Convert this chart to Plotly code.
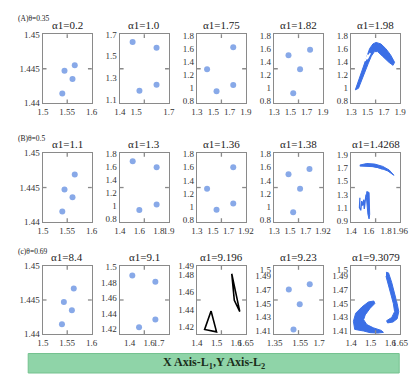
import plotly.graph_objects as go

# ---------------- data ----------------
titles = ["α1=0.2", "α1=1.0", "α1=1.75", "α1=1.82", "α1=1.98",
          "α1=1.1", "α1=1.3", "α1=1.36", "α1=1.38", "α1=1.4268",
          "α1=8.4", "α1=9.1", "α1=9.196", "α1=9.23", "α1=9.3079"]
row_labels = ["(A)θ=0.35", "(B)θ=0.5", "(c)θ=0.69"]
banner_text = "X Axis-L<sub>1</sub>,Y Axis-L<sub>2</sub>"

x_ranges = [[1.5, 1.6], [1.4, 1.7], [1.3, 1.9], [1.3, 1.9], [1.3, 1.9],
            [1.5, 1.6], [1.4, 1.9], [1.3, 1.92], [1.3, 1.92], [1.4, 1.96],
            [1.5, 1.6], [1.3, 1.8], [1.4, 1.65], [1.345, 1.73], [1.4, 1.65]]
y_ranges = [[1.44, 1.45], [1.066, 1.7], [0.76, 1.815], [0.76, 1.815], [0.76, 1.815],
            [1.44, 1.45], [0.76, 1.815], [0.77, 1.815], [0.77, 1.815], [0.885, 1.925],
            [1.44, 1.45], [1.414, 1.501], [1.412, 1.49], [1.405, 1.505], [1.405, 1.505]]
x_tick_vals = [[1.5, 1.55, 1.6], [1.4, 1.5, 1.7], [1.3, 1.5, 1.7, 1.9], [1.3, 1.5, 1.7, 1.9], [1.3, 1.5, 1.7, 1.9],
               [1.5, 1.55, 1.6], [1.4, 1.6, 1.8, 1.9], [1.3, 1.5, 1.7, 1.92], [1.3, 1.5, 1.7, 1.92], [1.4, 1.6, 1.8, 1.96],
               [1.5, 1.55, 1.6], [1.4, 1.6, 1.7], [1.4, 1.5, 1.6, 1.65], [1.35, 1.55, 1.7], [1.4, 1.5, 1.6, 1.65]]
y_tick_vals = [[1.44, 1.445, 1.45], [1.1, 1.3, 1.5, 1.7], [0.8, 1, 1.2, 1.4, 1.6, 1.8], [0.8, 1, 1.2, 1.4, 1.6, 1.8], [0.8, 1, 1.2, 1.4, 1.6, 1.8],
               [1.44, 1.445, 1.45], [0.8, 1, 1.2, 1.4, 1.6, 1.8], [0.8, 1, 1.2, 1.4, 1.6, 1.8], [0.8, 1, 1.2, 1.4, 1.6, 1.8], [0.9, 1.1, 1.3, 1.5, 1.7, 1.9],
               [1.44, 1.445, 1.45], [1.42, 1.44, 1.46, 1.48, 1.5], [1.42, 1.44, 1.46, 1.48, 1.49], [1.41, 1.43, 1.45, 1.47, 1.49, 1.5], [1.41, 1.43, 1.45, 1.47, 1.49, 1.5]]

# scatter-point panels (periodic orbits)
a1_x = [1.5654, 1.5444, 1.5608, 1.5399]; a1_y = [1.4455, 1.4447, 1.4435, 1.4414]
a2_x = [1.478, 1.625, 1.625, 1.520];     a2_y = [1.629, 1.578, 1.236, 1.180]
a3_x = [1.745, 1.424, 1.745, 1.540];     a3_y = [1.617, 1.281, 1.040, 0.944]
a4_x = [1.477, 1.742, 1.619, 1.535];     a4_y = [1.497, 1.579, 1.281, 0.911]
b1_x = [1.5654, 1.5444, 1.5608, 1.5399]; b1_y = [1.4469, 1.4447, 1.4436, 1.4415]
b2_x = [1.531, 1.776, 1.776, 1.599];     b2_y = [1.690, 1.600, 1.029, 0.943]
b3_x = [1.760, 1.428, 1.760, 1.548];     b3_y = [1.603, 1.274, 1.049, 0.955]
b4_x = [1.483, 1.749, 1.630, 1.542];     b4_y = [1.495, 1.575, 1.274, 0.917]
c1_x = [1.5634, 1.5431, 1.5595, 1.5392]; c1_y = [1.4467, 1.4447, 1.4435, 1.4414]
c2_x = [1.427, 1.663, 1.663, 1.496];     c2_y = [1.489, 1.481, 1.4325, 1.4225]
c4_x = [1.461, 1.626, 1.547, 1.498];     c4_y = [1.4703, 1.4783, 1.4488, 1.4116]

# alpha1=1.98 chaotic band
a5_band_x = [1.351, 1.41, 1.449, 1.488, 1.527, 1.567, 1.606, 1.665, 1.724, 1.782, 1.833,
             1.814, 1.763, 1.684, 1.625, 1.586, 1.547, 1.508, 1.449, 1.39, 1.351]
a5_band_y = [0.964, 1.176, 1.34, 1.481, 1.598, 1.669, 1.692, 1.669, 1.598, 1.504, 1.387,
             1.34, 1.387, 1.481, 1.551, 1.551, 1.481, 1.363, 1.176, 0.988, 0.964]
a5_gap_x = [1.469, 1.508, 1.496, 1.535]
a5_gap_y = [1.41, 1.504, 1.434, 1.528]

# alpha1=1.4268 attractor pieces
b5_arc_x = [1.499, 1.579, 1.671, 1.762, 1.836, 1.890, 1.890, 1.820, 1.735, 1.640, 1.550, 1.499]
b5_arc_y = [1.745, 1.769, 1.760, 1.725, 1.670, 1.605, 1.590, 1.655, 1.700, 1.722, 1.725, 1.730]
b5_hair_x = [1.600, 1.700, 1.760]
b5_hair_y = [1.740, 1.710, 1.680]
b5_strand_x = [1.579, 1.605, 1.612, 1.605, 1.592, 1.575, 1.579]
b5_strand_y = [1.344, 1.330, 1.000, 0.930, 1.000, 1.250, 1.344]
b5_zig_x = [1.500, 1.495, 1.510, 1.520, 1.530, 1.545, 1.550, 1.560, 1.570]
b5_zig_y = [1.250, 1.100, 1.060, 1.200, 1.130, 1.220, 1.080, 1.170, 1.300]

# alpha1=9.196 triangles
c3_tri1_x = [1.578, 1.591, 1.619, 1.578]
c3_tri1_y = [1.481, 1.4507, 1.4376, 1.481]
c3_tri2_x = [1.472, 1.439, 1.500, 1.472]
c3_tri2_y = [1.4384, 1.417, 1.4143, 1.4384]

# alpha1=9.3079 attractor
c5_blob_x = [1.4229, 1.4556, 1.4882, 1.516, 1.5209, 1.4964, 1.4719, 1.4637, 1.48, 1.5127, 1.5536,
             1.565, 1.5373, 1.4964, 1.4637, 1.4392, 1.418, 1.4114, 1.4229]
c5_blob_y = [1.4354, 1.4449, 1.4521, 1.4535, 1.4497, 1.4426, 1.433, 1.4259, 1.4187, 1.414, 1.4101,
             1.4072, 1.4062, 1.4068, 1.4092, 1.4101, 1.4116, 1.4235, 1.4354]
c5_strand_x = [1.5781, 1.5912, 1.6075, 1.6239, 1.6353, 1.6435, 1.6353, 1.6141, 1.5862, 1.5813,
               1.6075, 1.6222, 1.6157, 1.6026, 1.5912, 1.5781]
c5_strand_y = [1.4959, 1.495, 1.4807, 1.464, 1.4497, 1.4378, 1.4273, 1.4225, 1.4211, 1.4244,
               1.4292, 1.4378, 1.4497, 1.464, 1.4783, 1.4902]

# ---------------- figure ----------------
W, H = 413, 378
SERIF = "Liberation Serif, Times New Roman, DejaVu Serif, serif"
BOX = "#8a8a8a"
PT = "#88a9e8"
BLUE = "#3b6fe6"

col_left = [37, 117, 197, 277, 357]
box_w = 51
row_top = [30, 152, 268]
row_bot = [101, 223, 338]
label_y = [14, 137, 253]
TICK = 4  # px

fig = go.Figure()
layout = dict(width=W, height=H, margin=dict(l=0, r=0, t=0, b=0),
              paper_bgcolor="white", plot_bgcolor="white", showlegend=False,
              annotations=[], shapes=[])


def ax_ids(i):
    return ("x" if i == 0 else f"x{i+1}", "y" if i == 0 else f"y{i+1}")


def lab(v):
    return f"{v:g}"


for i in range(15):
    r, c = divmod(i, 5)
    xid, yid = ax_ids(i)
    xr, yr = x_ranges[i], y_ranges[i]
    px = (xr[1] - xr[0]) * 0.003
    py = (yr[1] - yr[0]) * 0.003
    common = dict(showline=True, mirror=True, linecolor=BOX, linewidth=1.3,
                  ticks="", showgrid=False, zeroline=False, tickangle=0,
                  tickfont=dict(family=SERIF, size=9, color="#333"))
    layout["xaxis" if i == 0 else f"xaxis{i+1}"] = dict(
        common, domain=[col_left[c] / W, (col_left[c] + box_w) / W],
        anchor=yid, range=[xr[0] - px, xr[1] + px], tickmode="array",
        tickvals=x_tick_vals[i], ticktext=[lab(v) for v in x_tick_vals[i]])
    layout["yaxis" if i == 0 else f"yaxis{i+1}"] = dict(
        common, domain=[1 - row_bot[r] / H, 1 - row_top[r] / H],
        anchor=xid, range=[yr[0] - py, yr[1] + py], tickmode="array",
        tickvals=y_tick_vals[i], ticktext=[lab(v) for v in y_tick_vals[i]])
    # inner mid ticks on all four sides
    xm = (xr[0] + xr[1]) / 2
    ym = (yr[0] + yr[1]) / 2
    fy = TICK / (row_bot[r] - row_top[r])
    fx = TICK / box_w
    for y0, y1 in [(0, fy), (1 - fy, 1)]:
        layout["shapes"].append(dict(type="line", xref=xid, yref=f"{yid} domain",
                                     x0=xm, x1=xm, y0=y0, y1=y1,
                                     line=dict(color=BOX, width=1.3)))
    for x0, x1 in [(0, fx), (1 - fx, 1)]:
        layout["shapes"].append(dict(type="line", xref=f"{xid} domain", yref=yid,
                                     x0=x0, x1=x1, y0=ym, y1=ym,
                                     line=dict(color=BOX, width=1.3)))
    layout["annotations"].append(dict(
        text=titles[i], x=(col_left[c] + box_w / 2) / W, y=1 - row_top[r] / H,
        xref="paper", yref="paper", xanchor="center", yanchor="bottom", yshift=1,
        showarrow=False, font=dict(family=SERIF, size=11, color="#222")))

for r in range(3):
    layout["annotations"].append(dict(
        text=row_labels[r], x=9 / W, y=1 - label_y[r] / H, xref="paper", yref="paper",
        xanchor="left", yanchor="middle", showarrow=False,
        font=dict(family=SERIF, size=7.5, color="#222")))

point_sets = {0: (a1_x, a1_y), 1: (a2_x, a2_y), 2: (a3_x, a3_y), 3: (a4_x, a4_y),
              5: (b1_x, b1_y), 6: (b2_x, b2_y), 7: (b3_x, b3_y), 8: (b4_x, b4_y),
              10: (c1_x, c1_y), 11: (c2_x, c2_y), 13: (c4_x, c4_y)}
for i, (xs, ys) in point_sets.items():
    xid, yid = ax_ids(i)
    fig.add_trace(go.Scatter(x=xs, y=ys, mode="markers", xaxis=xid, yaxis=yid,
                             marker=dict(size=6, color=PT), hoverinfo="skip"))


def fill(i, xs, ys, color=BLUE):
    xid, yid = ax_ids(i)
    fig.add_trace(go.Scatter(x=xs, y=ys, mode="lines", fill="toself", fillcolor=color,
                             line=dict(color=color, width=1), xaxis=xid, yaxis=yid,
                             hoverinfo="skip"))


def line(i, xs, ys, color=BLUE, width=1.2):
    xid, yid = ax_ids(i)
    fig.add_trace(go.Scatter(x=xs, y=ys, mode="lines", line=dict(color=color, width=width),
                             xaxis=xid, yaxis=yid, hoverinfo="skip"))


fill(4, a5_band_x, a5_band_y)
line(4, a5_gap_x, a5_gap_y, color="white", width=1.5)
fill(9, b5_arc_x, b5_arc_y)
line(9, b5_hair_x, b5_hair_y, width=1)
fill(9, b5_strand_x, b5_strand_y)
line(9, b5_zig_x, b5_zig_y, width=1.3)
line(12, c3_tri1_x, c3_tri1_y, color="black", width=1.6)
line(12, c3_tri2_x, c3_tri2_y, color="black", width=1.6)
fill(14, c5_blob_x, c5_blob_y)
fill(14, c5_strand_x, c5_strand_y)

layout["shapes"].append(dict(type="rect", xref="paper", yref="paper",
                             x0=22 / W, x1=407 / W, y0=0, y1=1 - 358 / H,
                             fillcolor="#8fd4a8", line=dict(color="#74c28f", width=1),
                             layer="below"))
layout["annotations"].append(dict(
    text="<b>" + banner_text + "</b>", x=214.5 / W, y=1 - 368 / H, xref="paper", yref="paper",
    xanchor="center", yanchor="middle", showarrow=False,
    font=dict(family=SERIF, size=12, color="#1b2e1b")))

fig.update_layout(**layout)
fig.write_html("out.html", config={"displayModeBar": False},
               post_script="document.body.style.margin='0';document.body.style.padding='0';")
